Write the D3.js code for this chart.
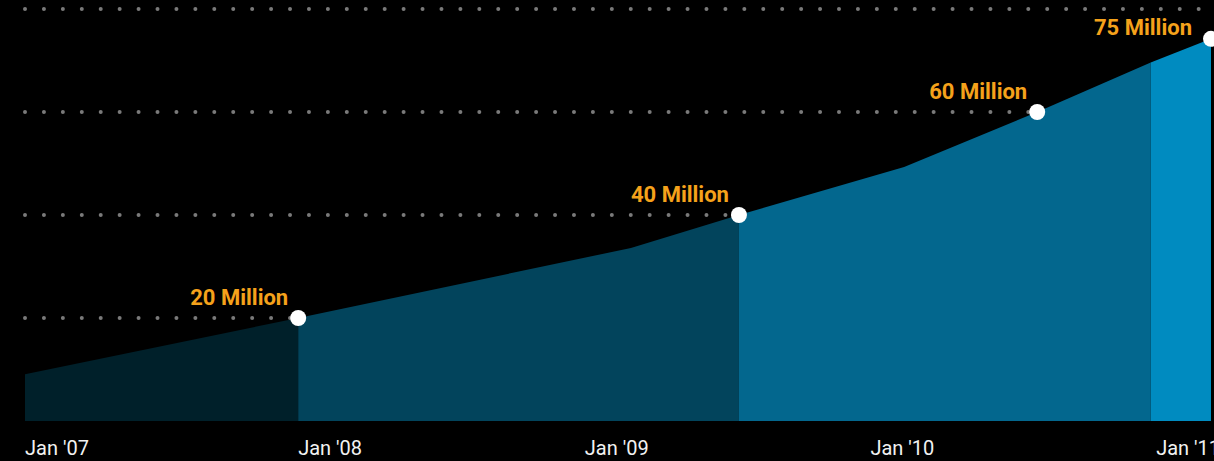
<!DOCTYPE html>
<html>
<head>
<meta charset="utf-8">
<script src="https://cdn.jsdelivr.net/npm/d3@7"></script>
<style>
  html, body { margin: 0; padding: 0; background: #000; overflow: hidden; }
  svg { display: block; }
</style>
</head>
<body>
<svg id="chart" width="1214" height="461"></svg>
<script>
// ── Data ─────────────────────────────────────────────────────────────
const dates  = ['2007-01-17', '2008-01-01', '2009-03-01', '2009-07-17', '2010-02-13', '2010-08-02', '2010-12-25', '2011-03-12'];
const values = [9.1, 20, 33.6, 40, 49.3, 60, 69.6, 74.2];   // millions

// indices where the fill colour changes
const segBreaks = [0, 1, 3, 6, 7];
const segColors = ['#00202a', '#02445c', '#03678e', '#008bc0'];

// milestone markers (index into data) and their labels
const milestoneIdx    = [1, 3, 5, 7];
const milestoneLabels = ['20 Million', '40 Million', '60 Million', '75 Million'];

const gridValues = [20, 40, 60, 80];

const tickDates  = ['2007-01-01', '2008-01-01', '2009-01-01', '2010-01-01', '2011-01-01'];
const tickLabels = ["Jan '07", "Jan '08", "Jan '09", "Jan '10", "Jan '11"];

// ── Setup ────────────────────────────────────────────────────────────
const W = 1214, H = 461;
const parse = d3.timeParse('%Y-%m-%d');
const data = dates.map((d, i) => ({ date: parse(d), value: values[i] }));

const x = d3.scaleTime()
  .domain(d3.extent(data, d => d.date))
  .range([25, 1211]);
const y = d3.scaleLinear()
  .domain([0, 80])
  .range([421, 9]);

const svg = d3.select('#chart');

// ── Area segments ────────────────────────────────────────────────────
const area = d3.area()
  .x(d => x(d.date))
  .y0(y(0))
  .y1(d => y(d.value));

svg.append('g').selectAll('path')
  .data(segColors)
  .join('path')
  .attr('fill', c => c)
  .attr('d', (c, i) => area(data.slice(segBreaks[i], segBreaks[i + 1] + 1)));

// ── Dotted gridlines (stop at their milestone marker) ───────────────
svg.append('g').selectAll('line')
  .data(gridValues)
  .join('line')
  .attr('x1', 25)
  .attr('x2', (v, i) => i < milestoneIdx.length - 1 ? x(data[milestoneIdx[i]].date) - 4 : 1201)
  .attr('y1', v => y(v))
  .attr('y2', v => y(v))
  .attr('stroke', '#7a7a7a')
  .attr('stroke-width', 4)
  .attr('stroke-linecap', 'round')
  .attr('stroke-dasharray', '0 18.93');

// ── Milestone markers + labels ──────────────────────────────────────
const ms = milestoneIdx.map((idx, i) => ({ d: data[idx], label: milestoneLabels[i], last: i === milestoneIdx.length - 1 }));

svg.append('g').selectAll('circle')
  .data(ms)
  .join('circle')
  .attr('cx', m => x(m.d.date))
  .attr('cy', m => y(m.d.value))
  .attr('r', 8)
  .attr('fill', '#fff');

svg.append('g').selectAll('text')
  .data(ms)
  .join('text')
  .attr('x', m => x(m.d.date) - (m.last ? 19 : 10))
  .attr('y', m => y(m.d.value) - (m.last ? 4 : 13))
  .attr('text-anchor', 'end')
  .attr('fill', '#f5a21b')
  .attr('font-family', 'Roboto, sans-serif')
  .attr('font-weight', 'bold')
  .attr('font-size', 22)
  .text(m => m.label);

// ── X labels (left aligned at tick, clamped to chart start) ─────────
svg.append('g').selectAll('text')
  .data(tickDates)
  .join('text')
  .attr('x', d => Math.max(x(parse(d)), x.range()[0]))
  .attr('y', 455)
  .attr('fill', '#f2f2f2')
  .attr('font-family', 'Roboto, sans-serif')
  .attr('font-size', 20)
  .text((d, i) => tickLabels[i]);
</script>
</body>
</html>
